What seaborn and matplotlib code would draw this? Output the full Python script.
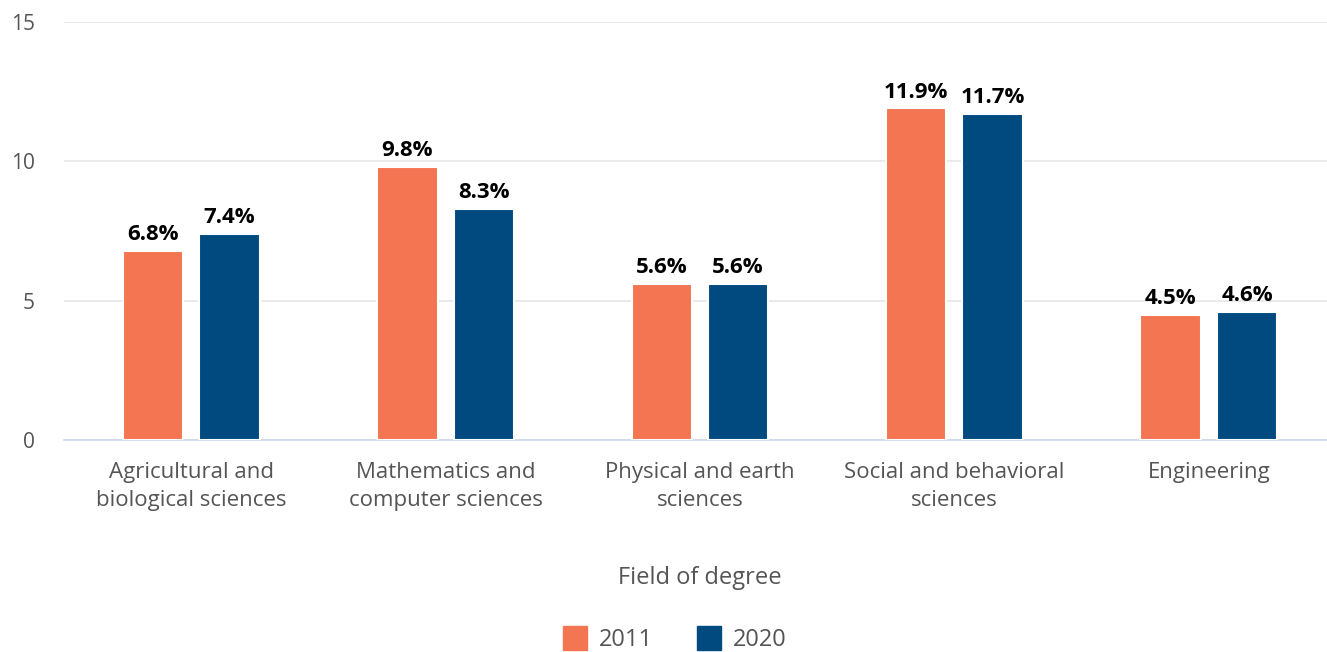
import pandas as pd
import seaborn as sns
import matplotlib.pyplot as plt
from matplotlib.lines import Line2D

# dados
campos = ['Agricultural and\nbiological sciences', 'Mathematics and\ncomputer sciences',
          'Physical and earth\nsciences', 'Social and behavioral\nsciences', 'Engineering']
anos = ['2011', '2020']
valores_2011 = [6.8, 9.8, 5.6, 11.9, 4.5]
valores_2020 = [7.4, 8.3, 5.6, 11.7, 4.6]
cores = {'2011': '#F47551', '2020': '#004A80'}

df = pd.DataFrame({
    'campo': campos * 2,
    'ano': ['2011'] * len(campos) + ['2020'] * len(campos),
    'valor': valores_2011 + valores_2020,
})

sns.set_style('white')
plt.rcParams['font.family'] = ['Open Sans', 'DejaVu Sans']

fig = plt.figure(figsize=(13.27, 6.52), dpi=100)
ax = fig.add_axes([64 / 1327, 1 - 440 / 652, 1272 / 1327, 418 / 652])

sns.barplot(data=df, x='campo', y='valor', hue='ano', hue_order=anos, order=campos,
            palette=cores, saturation=1, width=0.6, gap=0.21, edgecolor='white',
            linewidth=1.5, legend=False, ax=ax, zorder=3)

for cont in ax.containers:
    ax.bar_label(cont, labels=[f'{v:.1f}%' for v in cont.datavalues], padding=4,
                 fontsize=16, fontweight='bold', color='black')

ax.set_xlim(-0.5, 4.5)
ax.set_ylim(0, 15)
ax.set_yticks([0, 5, 10, 15])
ax.yaxis.grid(True, color='#e6e6e6', linewidth=1.2, zorder=0)
ax.set_axisbelow(True)
for lado in ['top', 'right', 'left']:
    ax.spines[lado].set_visible(False)
ax.spines['bottom'].set_color('#ccd6eb')
ax.spines['bottom'].set_linewidth(1.2)
ax.tick_params(axis='x', colors='#ccd6eb', length=10, width=1.2, labelcolor='#555555',
               labelsize=16, pad=6)
for t in ax.get_xticklabels():
    t.set_linespacing(1.4)
ax.tick_params(axis='y', length=0, labelcolor='#555555', labelsize=15, pad=21)
ax.set_ylabel('')
ax.set_xlabel('Field of degree', fontsize=17, color='#555555', labelpad=40)

handles = [Line2D([], [], marker='s', linestyle='', markersize=17, color=cores[a]) for a in anos]
fig.legend(handles, anos, loc='center', bbox_to_anchor=(675 / 1327, 1 - 640 / 652),
           ncol=2, frameon=False, fontsize=17, labelcolor='#555555', handletextpad=0.5,
           columnspacing=1.9, handlelength=1.0)

fig.savefig('out.png', dpi=100)
